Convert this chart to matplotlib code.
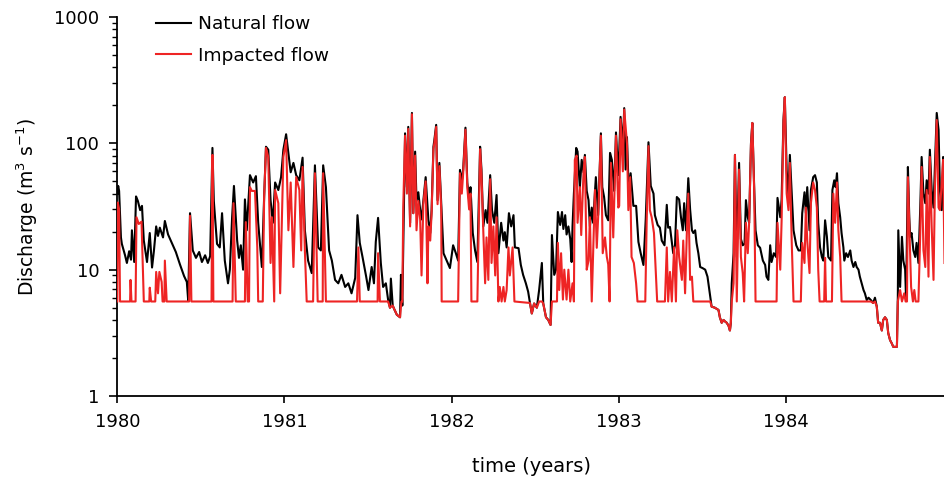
import numpy as np
import matplotlib
matplotlib.use("Agg")
import matplotlib.pyplot as plt
import matplotlib.ticker as ticker

# ── Data (day = days since 1 Jan 1980, q in m3/s) ─────────────────────────────
nat_day = [0, 2, 4, 8, 10, 17, 21, 26, 30, 32, 37, 41, 45, 50, 54, 58, 65, 71, 76, 80,
           85, 89, 93, 100, 104, 111, 120, 128, 137, 146, 152, 155, 159, 165, 172, 179,
           185, 192, 198, 203, 208, 211, 218, 224, 229, 235, 242, 246, 251, 255, 262,
           266, 270, 275, 279, 283, 290, 297, 303, 308, 316, 321, 325, 330, 335, 340,
           345, 352, 358, 363, 369, 374, 379, 385, 391, 398, 405, 410, 417, 425, 432,
           439, 445, 450, 456, 463, 469, 476, 483, 490, 498, 505, 512, 520, 525, 530,
           536, 544, 549, 556, 561, 565, 570, 576, 581, 587, 592, 596, 598, 602, 605,
           611, 618, 620, 623, 627, 629, 633, 636, 640, 644, 647, 651, 654, 658, 662,
           665, 669, 674, 680, 684, 687, 691, 693, 697, 700, 704, 708, 713, 720, 727,
           734, 740, 745, 749, 753, 756, 761, 765, 769, 772, 777, 782, 787, 793, 796,
           800, 805, 809, 815, 819, 824, 829, 833, 839, 844, 847, 851, 856, 861, 866,
           869, 877, 882, 887, 893, 898, 902, 906, 911, 917, 922, 928, 931, 937, 942,
           947, 950, 955, 959, 963, 968, 972, 975, 979, 982, 986, 990, 993, 995, 998,
           1003, 1006, 1011, 1015, 1019, 1022, 1026, 1030, 1033, 1037, 1040, 1046,
           1051, 1057, 1060, 1064, 1068, 1073, 1077, 1081, 1086, 1090, 1095, 1100,
           1105, 1108, 1111, 1114, 1118, 1122, 1128, 1134, 1139, 1144, 1150, 1155,
           1161, 1166, 1172, 1175, 1181, 1186, 1190, 1196, 1201, 1204, 1208, 1215,
           1219, 1223, 1228, 1232, 1236, 1239, 1243, 1248, 1252, 1256, 1259, 1263,
           1266, 1270, 1274, 1279, 1285, 1290, 1296, 1299, 1306, 1314, 1317, 1321,
           1325, 1328, 1332, 1336, 1339, 1341, 1343, 1347, 1350, 1354, 1359, 1363,
           1367, 1371, 1374, 1378, 1381, 1385, 1388, 1392, 1395, 1400, 1405, 1411,
           1416, 1419, 1423, 1427, 1430, 1435, 1440, 1443, 1449, 1452, 1456, 1459,
           1463, 1467, 1470, 1474, 1478, 1484, 1489, 1494, 1497, 1502, 1505, 1508,
           1513, 1516, 1521, 1525, 1529, 1532, 1536, 1540, 1543, 1547, 1551, 1554,
           1560, 1563, 1567, 1570, 1573, 1576, 1580, 1583, 1587, 1589, 1593, 1597,
           1602, 1605, 1609, 1613, 1616, 1620, 1623, 1627, 1631, 1634, 1638, 1642,
           1647, 1652, 1656, 1660, 1663, 1667, 1671, 1674, 1678, 1682, 1685, 1689,
           1693, 1696, 1704, 1706, 1707, 1711, 1715, 1718, 1722, 1724, 1728, 1731,
           1733, 1736, 1740, 1744, 1747, 1751, 1755, 1758, 1762, 1766, 1769, 1773,
           1776, 1780, 1784, 1787, 1791, 1795, 1798, 1802, 1805, 1808]
nat_q = [40, 46, 42, 18, 16, 13, 11.3, 14, 12, 20.5, 11.5, 38, 35, 29.6, 32, 17, 11.5, 19.5, 10.4, 14,
         22, 18.5, 21.5, 18, 24.3, 19, 16, 13.8, 11, 8.9, 8, 5.7, 28, 14.2, 12.4, 13.8,
         11.5, 13, 11.3, 12.8, 92, 35, 16, 15, 28, 11.8, 7.8, 10, 26, 46, 17,
         12.4, 15.6, 10, 36, 20.5, 56, 49, 55, 23.5, 10.5, 37.6, 94, 89, 35.5, 23.5,
         49, 42.7, 54, 89, 118, 84, 59, 70, 56, 51, 77, 20.5, 11.8, 9.4, 67,
         15, 14.2, 67, 45, 14.2, 11.8, 8.3, 7.8, 9.1, 7.3, 7.8, 6.5, 8.6, 27, 16.3,
         12.6, 8.8, 6.9, 10.5, 7.8, 16.6, 25.7, 11.3, 7.3, 7.8, 5.75, 5.0, 8.5, 5.2, 4.9,
         4.4, 4.2, 9.1, 5.2, 45, 120, 45, 135, 23.5, 174, 28, 86, 35, 41, 29.6,
         25, 35.5, 54, 24.6, 19.5, 29.6, 94, 106, 140, 35.5, 70, 33.6, 13.5, 11.8, 10.3,
         15.6, 13.5, 11.8, 61.6, 50, 62, 133, 49, 35.5, 45, 19.5, 14.2, 11.5, 94, 62,
         22, 29.6, 23.5, 56, 29.6, 23.5, 39, 13.5, 23.5, 17, 19.8, 15, 28, 22, 27,
         15, 14.8, 10.9, 9.1, 7.8, 6.7, 5.45, 4.5, 5.4, 5.0, 6.9, 11.3, 5.4, 4.2, 4.0,
         3.65, 18.8, 9.1, 10, 28.6, 22.6, 28.6, 21, 27, 19, 22, 17.5, 11.5, 22, 40,
         92, 86, 45, 74, 59, 81, 42, 35.5, 22, 31, 23.5, 54,
         27, 120, 45, 37.6, 27, 24.6, 84, 74, 42, 122, 56, 162,
         96, 190, 62, 112, 40, 58, 32, 32, 16.6, 13.5, 10.9, 25,
         102, 46, 40, 27, 22.6, 21.5, 17, 15.6, 32.6, 21.5, 21.8, 13.5,
         15.6, 37.6, 36, 26, 20.5, 33.6, 20.5, 53, 30, 20.5, 19.5, 20.5,
         16.3, 13.5, 10.5, 10.3, 10, 8.8, 6.1, 5.1, 5.0, 4.8, 4.2, 3.8,
         4.0, 3.9, 3.8, 3.6, 3.3, 3.8, 7.8, 13.5, 81, 12.6, 70, 17.5,
         15.6, 16, 35.5, 26, 23.5, 100, 145, 45, 20.5, 15.6, 14.9, 11.8,
         10.9, 8.8, 8.3, 15.6, 11.5, 13.5, 12.6, 37, 26, 36, 153, 232,
         61.6, 39, 81, 41, 20.5, 15.6, 14.2, 14.2, 28, 41, 28, 45,
         20.5, 42.7, 54, 56, 49, 23.5, 15, 12.6, 11.8, 24.6, 18.2, 12.6,
         11.8, 42.7, 51, 45, 58, 33.6, 26, 19.5, 15, 11.8, 13.5, 12.6,
         14.2, 11.8, 10.5, 11.5, 10.5, 10, 8.8, 7.8, 6.9, 6.5, 5.75, 6.0,
         5.75, 5.45, 6.0, 5.1, 3.8, 3.8, 3.3, 4.0, 4.2, 4.0, 3.15, 2.77,
         2.6, 2.45, 2.45, 6.1, 20.5, 7.3, 18.2, 11.8, 10, 5.75, 65, 26,
         18.2, 19.5, 14.2, 12.6, 16.3, 11.3, 31, 78, 40, 33.6, 51, 40,
         89, 42.7, 31, 65, 174, 128, 42.7, 29.6, 78, 49]

imp_day = [0, 1, 4, 6, 28, 29, 31, 40, 42, 47, 53, 56, 58, 70, 71, 74, 83, 85, 89, 92,
           97, 99, 103, 104, 108, 157, 159, 162, 206, 208, 210, 252, 254, 257, 259,
           279, 281, 285, 288, 290, 294, 301, 306, 308, 318, 321, 325, 330, 335, 338,
           343, 345, 352, 356, 363, 369, 374, 379, 385, 391, 398, 402, 405, 410, 414,
           428, 432, 438, 449, 450, 456, 524, 527, 530, 569, 570, 574, 592, 596, 602,
           605, 611, 618, 621, 623, 625, 629, 633, 636, 640, 644, 647, 651, 654, 658,
           662, 665, 669, 674, 678, 680, 684, 687, 691, 693, 697, 700, 704, 708, 709,
           745, 749, 753, 756, 761, 765, 769, 772, 774, 787, 793, 796, 800, 804, 807,
           811, 815, 818, 822, 826, 829, 833, 836, 840, 844, 847, 851, 855, 858, 864,
           868, 902, 906, 911, 917, 922, 928, 931, 937, 942, 947, 950, 961, 963, 966,
           970, 974, 977, 982, 986, 990, 995, 998, 1000, 1004, 1006, 1011, 1014, 1019,
           1022, 1026, 1030, 1033, 1037, 1040, 1044, 1048, 1051, 1057, 1061, 1066,
           1070, 1073, 1076, 1079, 1084, 1090, 1095, 1097, 1100, 1105, 1108, 1114,
           1117, 1121, 1124, 1129, 1134, 1137, 1154, 1157, 1161, 1164, 1168, 1173,
           1177, 1180, 1197, 1201, 1204, 1208, 1212, 1217, 1221, 1224, 1228, 1234,
           1237, 1241, 1245, 1248, 1252, 1256, 1259, 1296, 1299, 1306, 1314, 1317,
           1321, 1325, 1328, 1332, 1336, 1339, 1341, 1343, 1347, 1350, 1354, 1359,
           1363, 1367, 1370, 1374, 1378, 1381, 1385, 1388, 1392, 1395, 1441, 1443,
           1449, 1452, 1456, 1459, 1463, 1467, 1470, 1474, 1478, 1494, 1497, 1502,
           1505, 1508, 1513, 1516, 1521, 1525, 1529, 1532, 1535, 1545, 1547, 1549,
           1562, 1565, 1569, 1573, 1576, 1580, 1583, 1647, 1652, 1656, 1660, 1663,
           1667, 1671, 1674, 1678, 1682, 1685, 1689, 1693, 1696, 1704, 1706, 1711,
           1715, 1720, 1723, 1726, 1728, 1732, 1735, 1739, 1742, 1745, 1751, 1755,
           1758, 1762, 1766, 1769, 1773, 1776, 1780, 1784, 1787, 1791, 1795, 1798,
           1802, 1805, 1808]
imp_q = [5.6, 34, 30, 5.6, 5.6, 8.3, 5.6, 5.6, 26, 23, 24, 9.6, 5.6, 5.6, 7.2, 5.6, 5.6, 9.6, 6.5, 9.6,
         8, 5.6, 5.6, 11.8, 5.6, 5.6, 26.7, 5.6, 5.6, 81, 5.6, 5.6, 33.6, 12, 5.6,
         5.6, 23.8, 5.6, 5.6, 45, 42, 42, 15, 5.6, 5.6, 37.6, 92, 78, 11.3, 26,
         5.6, 42.7, 33.6, 6.5, 78, 106, 20.5, 49, 10.5, 54, 42.7, 14.2, 65, 14.2, 5.6,
         5.6, 58, 5.6, 5.6, 58, 5.6, 5.6, 15, 5.6, 5.6, 13.5, 5.6, 5.6, 5.0, 5.2,
         4.9, 4.4, 4.2, 5.6, 5.6, 31, 115, 40, 130, 22, 170, 28, 80, 20.5, 35,
         25, 9, 33, 50, 7.8, 22, 17, 28, 90, 100, 135, 33, 66, 30, 5.6,
         5.6, 58, 40, 58, 128, 45, 30, 40, 5.6, 5.6, 90, 56, 20, 7.8, 18,
         8.3, 52, 11.3, 22, 9, 26, 5.6, 7.3, 5.6, 7.3, 5.6, 6.9, 15, 9, 15,
         5.6, 5.45, 4.5, 5.4, 5.0, 5.6, 5.6, 5.4, 4.2, 4.0, 3.65, 5.6, 5.6, 16.3, 6.9,
         13.5, 5.8, 10, 5.8, 10, 5.6, 7.8, 5.6, 74, 80, 23.5, 45, 18.8, 59,
         78, 10, 11.8, 26, 5.6, 13.5, 42.7, 14.9, 26, 115, 13.5, 18,
         12.6, 11, 5.6, 70, 18, 115, 31, 32, 155, 60, 185, 100,
         29.6, 54, 12.6, 11.3, 7.8, 5.6, 5.6, 23.5, 95, 29.6, 26, 19.5,
         9.6, 5.6, 5.6, 15, 5.6, 9.6, 5.6, 15, 5.6, 20.5, 12.6, 8.3,
         17, 6.5, 20.5, 40, 8.3, 8.8, 5.6, 5.6, 5.1, 5.0, 4.8, 4.2,
         3.8, 4.0, 3.9, 3.8, 3.6, 3.3, 3.8, 5.6, 7.8, 81, 5.6, 62,
         12.6, 9.4, 5.6, 23.5, 13.5, 23.5, 97, 145, 42.7, 5.6, 5.6, 23.5,
         10, 24.6, 145, 232, 40, 29.6, 70, 17, 5.6, 5.6, 16.3, 11.3,
         31, 17, 9.4, 33.6, 49, 42.7, 31, 10, 5.6, 5.6, 12.4, 5.6,
         5.6, 40, 23.5, 49, 20.5, 12.6, 5.6, 5.6, 5.45, 5.6, 5.1, 3.8,
         3.8, 3.3, 4.0, 4.2, 4.0, 3.15, 2.77, 2.6, 2.45, 2.45, 5.6, 6.9,
         5.6, 6.5, 5.6, 5.6, 54, 17, 7.3, 5.6, 6.9, 5.6, 5.6, 19.5,
         65, 14.2, 10.5, 42.7, 8.8, 78, 21.8, 8.3, 42.7, 153, 31, 29.6,
         49, 74, 11.3]

year_ticks = [1980, 1981, 1982, 1983, 1984]
q_ticks = [1, 10, 100, 1000]

# days -> decimal years
nat_t = 1980 + np.array(nat_day) / 365.25
imp_t = 1980 + np.array(imp_day) / 365.25

# ── Figure ────────────────────────────────────────────────────────────────────
fig = plt.figure(figsize=(9.45, 4.83), dpi=100)
ax = fig.add_axes([0.1241, 0.1801, 0.8759, 0.7847])

ax.plot(nat_t, nat_q, color="black", linewidth=1.5, label="Natural flow", zorder=2)
ax.plot(imp_t, imp_q, color="#ee2424", linewidth=1.5, label="Impacted flow", zorder=3)

ax.set_yscale("log")
ax.set_ylim(1, 1000)
ax.set_xlim(1980, 1984.953)

ax.set_xticks(year_ticks, labels=[str(y) for y in year_ticks])
ax.set_yticks(q_ticks, labels=[str(q) for q in q_ticks])
ax.yaxis.set_minor_locator(ticker.LogLocator(base=10, subs=np.arange(2, 10)))
ax.yaxis.set_minor_formatter(ticker.NullFormatter())
ax.xaxis.set_minor_locator(ticker.NullLocator())

for side in ("top", "right"):
    ax.spines[side].set_visible(False)
for side in ("left", "bottom"):
    ax.spines[side].set_linewidth(1.3)

ax.tick_params(axis="y", which="major", length=6, width=1.2, labelsize=13, pad=7)
ax.tick_params(axis="y", which="minor", length=3.5, width=1.0)
ax.tick_params(axis="x", which="major", length=5, width=1.2, labelsize=13, pad=7)

ax.set_xlabel("time (years)", fontsize=14, labelpad=19)
ax.set_ylabel("Discharge (m$^3$ s$^{-1}$)", fontsize=13.5, labelpad=10)

ax.legend(loc="upper left", bbox_to_anchor=(0.047, 1.005), frameon=False,
          fontsize=13.3, handlelength=1.9, handletextpad=0.35,
          borderaxespad=0, borderpad=0, labelspacing=0.75)

fig.savefig("out.png", dpi=100)
